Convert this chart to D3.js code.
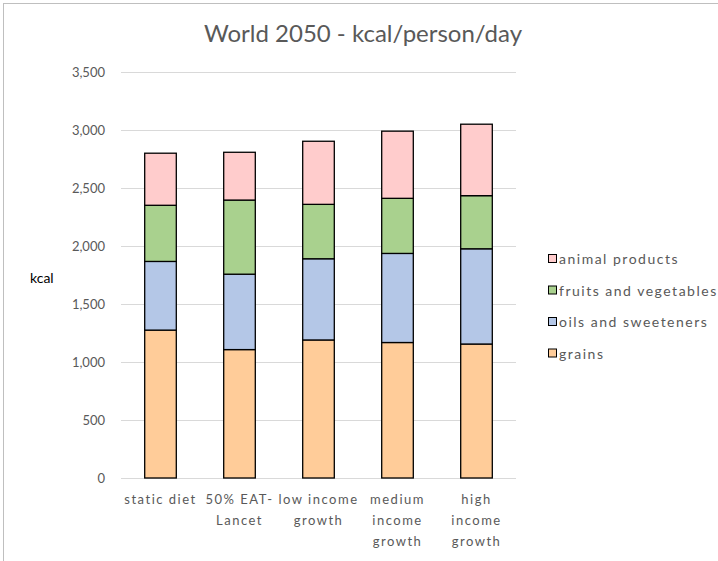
<!DOCTYPE html>
<html>
<head>
<meta charset="utf-8">
<script src="https://cdn.jsdelivr.net/npm/d3@7"></script>
<style>
  html, body { margin: 0; padding: 0; background: #fff; }
  svg { display: block; font-family: Lato, "Open Sans", sans-serif; }
</style>
</head>
<body>
<svg id="chart" width="718" height="561"></svg>
<script>
// Scenario categories (each entry split into its wrapped display lines)
const categories = ["static diet", "50% EAT-Lancet", "low income growth", "medium income growth", "high income growth"];
const categoryLines = [
  ["static diet"],
  ["50% EAT-", "Lancet"],
  ["low income", "growth"],
  ["medium", "income", "growth"],
  ["high", "income", "growth"]
];

// kcal/person/day by food group, stacked bottom to top
const grains = [1275, 1107, 1190, 1168, 1155];
const oilsSweeteners = [592, 650, 700, 768, 821];
const fruitsVegetables = [484, 639, 469, 475, 458];
const animalProducts = [449, 412, 544, 579, 616];

const seriesNames = ["grains", "oils and sweeteners", "fruits and vegetables", "animal products"];
const seriesColors = ["#FFCC99", "#B4C7E7", "#A9D18E", "#FFCCCC"];
const yTicks = [0, 500, 1000, 1500, 2000, 2500, 3000, 3500];

const svg = d3.select("#chart");
const W = 718, H = 561;

// outer chart border
svg.append("rect")
  .attr("x", 3.5).attr("y", 3.5)
  .attr("width", W + 10).attr("height", H + 10)
  .attr("fill", "#fff").attr("stroke", "#BFBFBF");

const plot = { left: 121, right: 516, top: 72, bottom: 478 };

const x = d3.scaleBand()
  .domain(categories)
  .range([plot.left, plot.right])
  .paddingInner(0.6).paddingOuter(0.3);

const y = d3.scaleLinear().domain([0, 3500]).range([plot.bottom, plot.top]);

// horizontal gridlines
svg.append("g")
  .selectAll("line")
  .data(yTicks)
  .join("line")
  .attr("x1", plot.left).attr("x2", plot.right)
  .attr("y1", d => Math.round(y(d)) + 0.5).attr("y2", d => Math.round(y(d)) + 0.5)
  .attr("stroke", "#D9D9D9").attr("stroke-width", 1);

// y axis labels
const yAxis = d3.axisLeft(y).tickValues(yTicks).tickSize(0).tickPadding(0)
  .tickFormat(d3.format(","));
const yg = svg.append("g").attr("transform", `translate(${plot.left - 16},0)`).call(yAxis);
yg.select(".domain").remove();
yg.selectAll("text")
  .attr("fill", "#595959").attr("font-size", 13)
  .attr("font-family", "Lato, sans-serif");

svg.append("text")
  .attr("x", 30).attr("y", 283)
  .attr("font-size", 14).attr("fill", "#000")
  .text("kcal");

// stacked bars
const table = categories.map((c, i) => ({
  category: c,
  "grains": grains[i],
  "oils and sweeteners": oilsSweeteners[i],
  "fruits and vegetables": fruitsVegetables[i],
  "animal products": animalProducts[i]
}));
const stacked = d3.stack().keys(seriesNames)(table);

svg.append("g")
  .selectAll("g")
  .data(stacked)
  .join("g")
  .attr("fill", (d, i) => seriesColors[i])
  .selectAll("rect")
  .data(d => d)
  .join("rect")
  .attr("x", d => x(d.data.category))
  .attr("width", x.bandwidth())
  .attr("y", d => y(d[1]))
  .attr("height", d => y(d[0]) - y(d[1]))
  .attr("stroke", "#000").attr("stroke-width", 1.3);

// category labels
const xl = svg.append("g");
categoryLines.forEach((lines, i) => {
  const cx = x(categories[i]) + x.bandwidth() / 2;
  const t = xl.append("text")
    .attr("text-anchor", "middle")
    .attr("font-size", 13).attr("fill", "#595959")
    .attr("letter-spacing", "1.5px");
  lines.forEach((ln, j) => {
    t.append("tspan").attr("x", cx).attr("y", 504 + j * 21).text(ln);
  });
});

// title
svg.append("text")
  .attr("x", 363).attr("y", 42)
  .attr("text-anchor", "middle")
  .attr("font-size", 24).attr("fill", "#595959")
  .text("World 2050 - kcal/person/day");

// legend (top to bottom: animal products first)
const legendOrder = [3, 2, 1, 0];
const lg = svg.append("g");
legendOrder.forEach((si, r) => {
  const yy = 259 + r * 31.5;
  lg.append("rect")
    .attr("x", 548.5).attr("y", yy - 4.5)
    .attr("width", 8).attr("height", 8)
    .attr("fill", seriesColors[si]).attr("stroke", "#000").attr("stroke-width", 1);
  lg.append("text")
    .attr("x", 559).attr("y", yy + 5)
    .attr("font-size", 14).attr("fill", "#595959")
    .attr("letter-spacing", "1.5px")
    .text(seriesNames[si]);
});
</script>
</body>
</html>
